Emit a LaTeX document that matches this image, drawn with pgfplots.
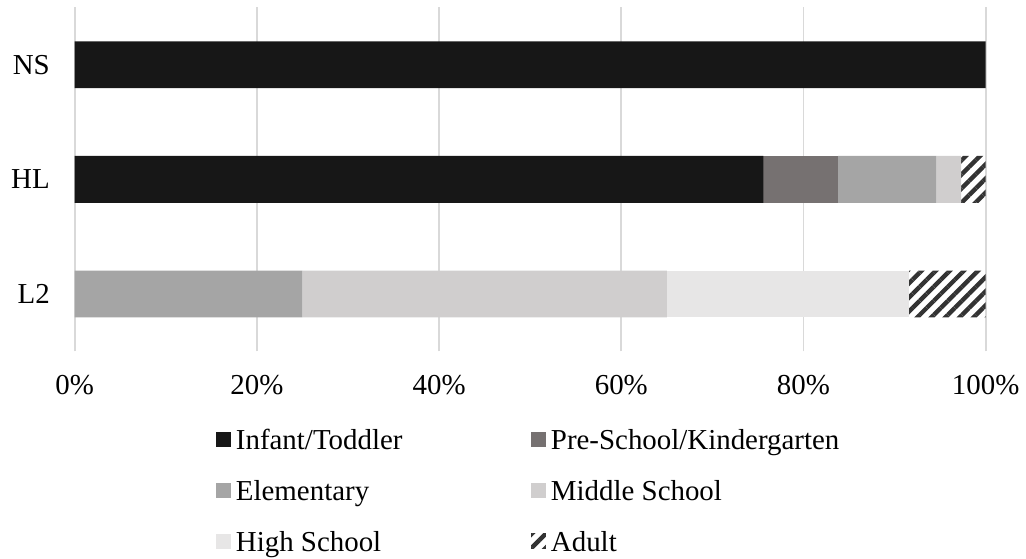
\documentclass[border=0pt]{standalone}
\usepackage{fontspec}
\setmainfont{Liberation Serif}
\usepackage{pgfplots}
\pgfplotsset{compat=1.18}
\usetikzlibrary{patterns.meta,calc}
\definecolor{cInf}{HTML}{171717}
\definecolor{cPre}{HTML}{767171}
\definecolor{cEle}{HTML}{A5A5A5}
\definecolor{cMid}{HTML}{D0CECE}
\definecolor{cHig}{HTML}{E7E6E6}
\definecolor{cAdu}{HTML}{333333}
\definecolor{cGrid}{HTML}{D9D9D9}
\begin{document}
\begin{tikzpicture}
\begin{axis}[
  font=\fontsize{14.5}{17}\selectfont,
  width=457pt, height=172.5pt, scale only axis,
  xbar stacked, bar width=23.5pt,
  xmin=0, xmax=100, ymin=-0.5, ymax=2.5,
  ytick={0,1,2}, yticklabels={L2,HL,NS},
  xtick={0,20,40,60,80,100},
  xticklabels={0\%,20\%,40\%,60\%,80\%,100\%},
  xmajorgrids, grid style={cGrid, line width=0.9pt},
  axis line style={draw=none}, major tick length=0pt,
  xticklabel style={yshift=-8.5pt},
  yticklabel style={xshift=-9pt},
  clip=false,
  legend columns=2,
  legend cell align=left,
  legend style={draw=none, fill=none, inner sep=0pt, outer sep=0pt,
    at={(0.5,-0.229)}, anchor=north,
    nodes={inner xsep=2.5pt, inner ysep=0pt, text height=10pt, text depth=0pt},
    row sep=15.5pt,
    /tikz/every even column/.append style={column sep=62pt}},
  legend image code/.code={\path[#1] (0pt,-3.5pt) rectangle (7.5pt,4pt);},
]
\addplot[fill=cInf, draw=none] coordinates {(100,2) (75.6,1) (0,0)};
\addlegendentry{Infant/Toddler}
\addplot[fill=cPre, draw=none] coordinates {(0,2) (8.2,1) (0,0)};
\addlegendentry{Pre-School/Kindergarten}
\addplot[fill=cEle, draw=none] coordinates {(0,2) (10.8,1) (25,0)};
\addlegendentry{Elementary}
\addplot[fill=cMid, draw=none] coordinates {(0,2) (2.7,1) (40,0)};
\addlegendentry{Middle School}
\addplot[fill=cHig, draw=none] coordinates {(0,2) (0,1) (26.6,0)};
\addlegendentry{High School}
\addplot[draw=none, pattern={Lines[angle=45,distance=5pt,line width=2.2pt]}, pattern color=cAdu] coordinates {(0,2) (2.7,1) (8.4,0)};
\addlegendentry{Adult}
\path ($(rel axis cs:0,0)+(-37.5pt,-103.75pt)$) rectangle ($(rel axis cs:1,1)+(18.5pt,3.75pt)$);
\end{axis}
\end{tikzpicture}
\end{document}
